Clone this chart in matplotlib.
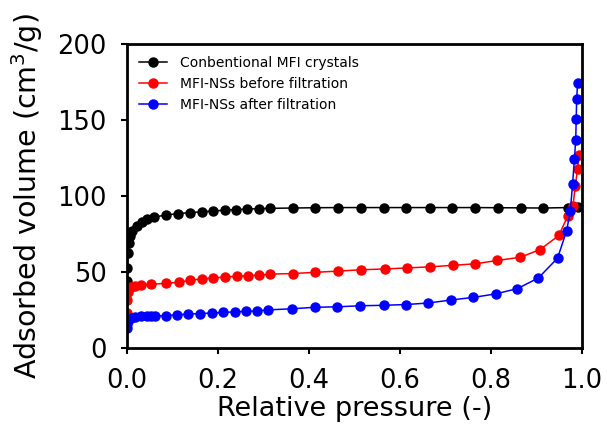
import matplotlib
matplotlib.use("Agg")
import matplotlib.pyplot as plt

# Conbentional MFI crystals
p_conv = [0.0005, 0.001, 0.002, 0.004, 0.007, 0.011, 0.022, 0.033, 0.045, 0.06,
          0.087, 0.113, 0.138, 0.164, 0.19, 0.215, 0.24, 0.264, 0.29, 0.314,
          0.364, 0.414, 0.464, 0.515, 0.564, 0.614, 0.665, 0.715, 0.765, 0.815,
          0.865, 0.915, 0.968, 0.992]
v_conv = [44, 52.5, 62.5, 69, 73.5, 77, 80, 82.5, 84.5, 86,
          87.5, 88.3, 89, 89.5, 90, 90.6, 91, 91.3, 91.6, 91.8,
          92, 92.2, 92.3, 92.3, 92.3, 92.3, 92.3, 92.3, 92.3, 92.2,
          92.1, 92, 92.3, 92.5]

# MFI-NSs before filtration
p_before = [0.0005, 0.001, 0.002, 0.004, 0.008, 0.017, 0.031, 0.054, 0.087, 0.115,
            0.138, 0.164, 0.19, 0.215, 0.241, 0.266, 0.29, 0.314, 0.364, 0.414,
            0.464, 0.515, 0.566, 0.615, 0.666, 0.716, 0.765, 0.814, 0.864, 0.908,
            0.949, 0.968, 0.98, 0.985, 0.99, 0.993]
v_before = [23, 31.5, 37, 39.5, 40.3, 40.8, 41.3, 41.8, 42.5, 43.2,
            44.5, 45.3, 46, 46.6, 47.1, 47.5, 47.8, 48.5, 48.9, 49.7,
            50.5, 51.4, 51.9, 52.6, 53.3, 54.3, 55.3, 57.5, 59.6, 64.7,
            74, 86.5, 93.5, 106.5, 117.5, 127]

# MFI-NSs after filtration
p_after = [0.0005, 0.001, 0.003, 0.008, 0.017, 0.031, 0.045, 0.053, 0.062, 0.087,
           0.11, 0.135, 0.16, 0.186, 0.212, 0.237, 0.262, 0.286, 0.311, 0.362,
           0.413, 0.462, 0.512, 0.564, 0.613, 0.662, 0.712, 0.761, 0.81, 0.858,
           0.904, 0.946, 0.966, 0.974, 0.979, 0.983, 0.986, 0.987, 0.988, 0.99]
v_after = [13, 15.5, 17.5, 19.5, 20.3, 20.7, 20.8, 20.9, 21, 21.2,
           21.8, 22.2, 22.6, 22.9, 23.3, 23.7, 24, 24.3, 25, 25.7,
           26.7, 27, 27.7, 28, 28.5, 29.5, 31.5, 33.2, 35.5, 39,
           46, 59, 77, 90, 107.5, 124, 137, 150.5, 163.5, 174]

fig = plt.figure(figsize=(6.07, 4.3), dpi=100)
ax = fig.add_axes([0.209, 0.191, 0.75, 0.707])

ax.plot(p_conv, v_conv, "o-", color="black", ms=6.5, lw=1.1,
        label="Conbentional MFI crystals")
ax.plot(p_before, v_before, "o-", color="red", ms=6.5, lw=1.1,
        label="MFI-NSs before filtration")
ax.plot(p_after, v_after, "o-", color="blue", ms=6.5, lw=1.1,
        label="MFI-NSs after filtration")

ax.set_xlim(0, 1.0)
ax.set_ylim(0, 200)
ax.set_xticks([0.0, 0.2, 0.4, 0.6, 0.8, 1.0])
ax.set_yticks([0, 50, 100, 150, 200])
ax.tick_params(labelsize=18.5, width=1.5, length=4.5, pad=10)
for s in ax.spines.values():
    s.set_linewidth(2)

ax.set_xlabel("Relative pressure (-)", fontsize=19.5, labelpad=1.5)
ax.set_ylabel("Adsorbed volume (cm$^3$/g)", fontsize=20.5)
ax.yaxis.set_label_coords(-0.18, 0.5)

ax.legend(loc="upper left", frameon=False, fontsize=10,
          handlelength=2.0, handletextpad=0.9, borderaxespad=0.5,
          labelspacing=0.5)

fig.savefig("out.png", dpi=100)
